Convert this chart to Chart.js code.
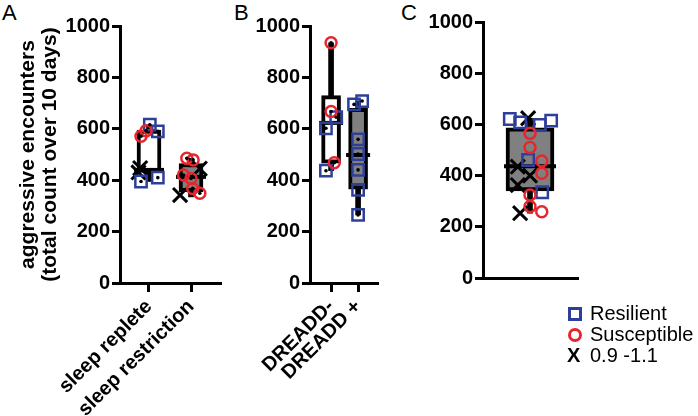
<!DOCTYPE html>
<html>
<head>
<meta charset="utf-8">
<script src="https://cdn.jsdelivr.net/npm/chart.js@4.4.0/dist/chart.umd.min.js"></script>
<style>
body { margin: 0; width: 698px; height: 416px; background: #fff; position: relative; overflow: hidden; font-family: "Liberation Sans", Arial, sans-serif; }
canvas { position: absolute; top: 0; }
.panel { position: absolute; top: 0; font-size: 22px; color: #000; }
#legend { position: absolute; left: 566px; top: 303px; font-size: 20px; line-height: 20px; color: #000; }
#legend div { position: relative; padding-left: 24px; height: 21px; }
#legend .sq { position: absolute; left: 2px; top: 4px; width: 8px; height: 8px; border: 3px solid #2e3f99; }
#legend .ci { position: absolute; left: 2px; top: 4px; width: 8px; height: 8px; border: 3px solid #e6262d; border-radius: 50%; }
#legend .xx { position: absolute; left: 1px; top: 0; font-weight: bold; }
</style>
</head>
<body>
<div class="panel" style="left:2px">A</div>
<div class="panel" style="left:234px">B</div>
<div class="panel" style="left:401px">C</div>
<canvas id="chartA" width="225" height="416" style="left:0"></canvas>
<canvas id="chartB" width="140" height="416" style="left:240px"></canvas>
<canvas id="chartC" width="180" height="416" style="left:400px"></canvas>
<div id="legend">
  <div><span class="sq"></span>Resilient</div>
  <div><span class="ci"></span>Susceptible</div>
  <div><span class="xx">X</span>0.9 -1.1</div>
</div>
<script>
// y axis ticks (all panels)
const yTicks = [0, 200, 400, 600, 800, 1000];

// panel A - sleep
const catsA = ['sleep replete', 'sleep restriction'];
const minA = [395, 335];
const q1A = [430, 355];
const medA = [440, 413];
const q3A = [595, 465];
const maxA = [615, 485];
const resilientA = [[616, 590, 395, 410], []];
const susceptibleA = [[571, 592], [485, 479, 420, 407, 368, 349]];
const midA = [[447, 430], [445, 342]];

// panel B - DREADD
const catsB = ['DREADD-', 'DREADD +'];
const minB = [437, 265];
const q1B = [466, 365];
const medB = [623, 498];
const q3B = [729, 680];
const maxB = [935, 708];
const resilientB = [[645, 602, 437], [695, 708, 559, 502, 440, 362, 265]];
const susceptibleB = [[935, 667, 468], []];
const midB = [[], []];

// panel C - pooled
const catsC = [''];
const minC = [253];
const q1C = [340];
const medC = [437];
const q3C = [587];
const maxC = [624];
const resilientC = [[621, 608, 598, 615, 461, 335]];
const susceptibleC = [[565, 510, 457, 409, 324, 279, 259]];
const midC = [[624, 435, 363, 253, 400]];

// horizontal scatter of the points inside each column (category units)
const jitResA = [[0.02, 0.21, -0.19, 0.21], []];
const jitSusA = [[-0.19, -0.07], [-0.1, 0.05, -0.18, 0, 0.04, 0.21]];
const jitMidA = [[-0.21, -0.25], [0.21, -0.26]];
const jitResB = [[0.19, -0.19, -0.19], [-0.15, 0.15, 0, 0, 0, 0, 0]];
const jitSusB = [[0, 0, 0.12], []];
const jitMidB = [[], []];
const jitResC = [[-0.43, -0.21, 0.21, 0.45, -0.04, 0.26]];
const jitSusC = [[0, 0, 0.25, 0.25, 0, 0, 0.25]];
const jitMidC = [[-0.04, -0.26, -0.26, -0.21, 0]];

const FONT = '"Liberation Sans", Arial, sans-serif';
const BLUE = '#2e3f99', RED = '#e6262d';

function pts(groups, jit) {
    const out = [];
    groups.forEach((g, i) => g.forEach((v, j) => out.push({x: i + 1 + jit[i][j], y: v})));
    return out;
}

function build(id, p) {
    const xs = p.cats.map((c, i) => i + 1);
    const sets = [
        {data: xs.map((x, i) => ({x: x, y: [p.min[i], p.max[i]]})), backgroundColor: '#000',
         borderWidth: 0, barThickness: 5, grouped: false, order: 6},
        {data: xs.map((x, i) => ({x: x, y: [p.q1[i], p.q3[i]]})), backgroundColor: p.fill,
         borderColor: '#000', borderWidth: 4, borderSkipped: false, barThickness: p.boxW, grouped: false, order: 5},
        {type: 'scatter', data: xs.map((x, i) => ({x: x, y: p.med[i]})), pointStyle: 'line',
         pointRadius: p.medR, pointHoverRadius: p.medR, pointBorderColor: '#000', pointBorderWidth: 4, order: 4},
        {type: 'scatter', data: pts(p.mid, p.jitMid), pointStyle: 'crossRot', pointRadius: 10, pointHoverRadius: 10,
         pointBorderColor: '#000', pointBorderWidth: 3, order: 3},
        {type: 'scatter', data: pts(p.res, p.jitRes), pointStyle: 'rect', pointRadius: 8, pointHoverRadius: 8,
         pointBorderColor: BLUE, pointBackgroundColor: 'rgba(0,0,0,0)', pointBorderWidth: 2.5, order: 2},
        {type: 'scatter', data: pts(p.sus, p.jitSus), pointStyle: 'circle', pointRadius: 5.5, pointHoverRadius: 5.5,
         pointBorderColor: RED, pointBackgroundColor: 'rgba(0,0,0,0)', pointBorderWidth: 2.5, order: 1}
    ];
    if (p.dots) {
        sets.push({type: 'scatter', data: pts(p.res, p.jitRes).concat(pts(p.sus, p.jitSus)), pointStyle: 'circle',
                   pointRadius: 1.8, pointHoverRadius: 1.8, pointBackgroundColor: '#000', pointBorderWidth: 0, order: 0});
    }
    return new Chart(document.getElementById(id), {
        type: 'bar',
        data: {datasets: sets},
        options: {
            responsive: false,
            animation: false,
            events: [],
            layout: {autoPadding: false, padding: {top: p.top, right: p.right, left: 0, bottom: 0}},
            plugins: {legend: {display: false}, tooltip: {enabled: false}},
            scales: {
                x: {
                    type: 'linear', min: p.xMin, max: p.xMax, offset: false,
                    grid: {display: true, offset: false, drawOnChartArea: false, drawTicks: p.xTicks,
                           tickLength: 9, lineWidth: 3, color: '#000'},
                    border: {color: '#000', width: 3},
                    ticks: {display: p.xTicks, autoSkip: false, minRotation: 45, maxRotation: 45, padding: 3,
                            color: '#000', font: {family: FONT, size: 20, weight: 'bold'},
                            callback: v => p.cats[v - 1]},
                    afterBuildTicks: s => { s.ticks = p.xTicks ? xs.map(v => ({value: v})) : []; },
                    afterFit: s => { s.height = p.xH; s.paddingLeft = 0; s.paddingRight = 0; }
                },
                y: {
                    type: 'linear', min: 0, max: 1000,
                    grid: {display: true, drawOnChartArea: false, drawTicks: true, tickLength: 8, lineWidth: 3, color: '#000'},
                    border: {color: '#000', width: 3},
                    ticks: {padding: 2, color: '#000', font: {family: FONT, size: 20, weight: 'bold'},
                            callback: v => String(v)},
                    afterBuildTicks: s => { s.ticks = yTicks.map(v => ({value: v})); },
                    title: p.title ? {display: true, text: p.title, color: '#000',
                                      font: {family: FONT, size: 21, weight: 'bold', lineHeight: 1.05},
                                      padding: {top: 17, bottom: 0}} : {display: false},
                    afterFit: s => { s.width = p.yW; s.paddingTop = 0; s.paddingBottom = 0; }
                }
            }
        }
    });
}

build('chartA', {cats: catsA, min: minA, q1: q1A, med: medA, q3: q3A, max: maxA,
    res: resilientA, sus: susceptibleA, mid: midA, jitRes: jitResA, jitSus: jitSusA, jitMid: jitMidA,
    fill: ['#ffffff', '#808080'], boxW: 24, medR: 15, xMin: 0.31, xMax: 2.69, xTicks: true, dots: true,
    top: 26, right: 5, xH: 133, yW: 120, title: ['aggressive encounters', '(total count over 10 days)']});

build('chartB', {cats: catsB, min: minB, q1: q1B, med: medB, q3: q3B, max: maxB,
    res: resilientB, sus: susceptibleB, mid: midB, jitRes: jitResB, jitSus: jitSusB, jitMid: jitMidB,
    fill: ['#ffffff', '#808080'], boxW: 19, medR: 12, xMin: 0.22, xMax: 2.7, xTicks: true, dots: true,
    top: 26, right: 3, xH: 133, yW: 70});

build('chartC', {cats: catsC, min: minC, q1: q1C, med: medC, q3: q3C, max: maxC,
    res: resilientC, sus: susceptibleC, mid: midC, jitRes: jitResC, jitSus: jitSusC, jitMid: jitMidC,
    fill: '#808080', boxW: 48, medR: 26, xMin: 0, xMax: 2, xTicks: false, dots: false,
    top: 22, right: 3, xH: 138, yW: 83});
</script>
</body>
</html>
